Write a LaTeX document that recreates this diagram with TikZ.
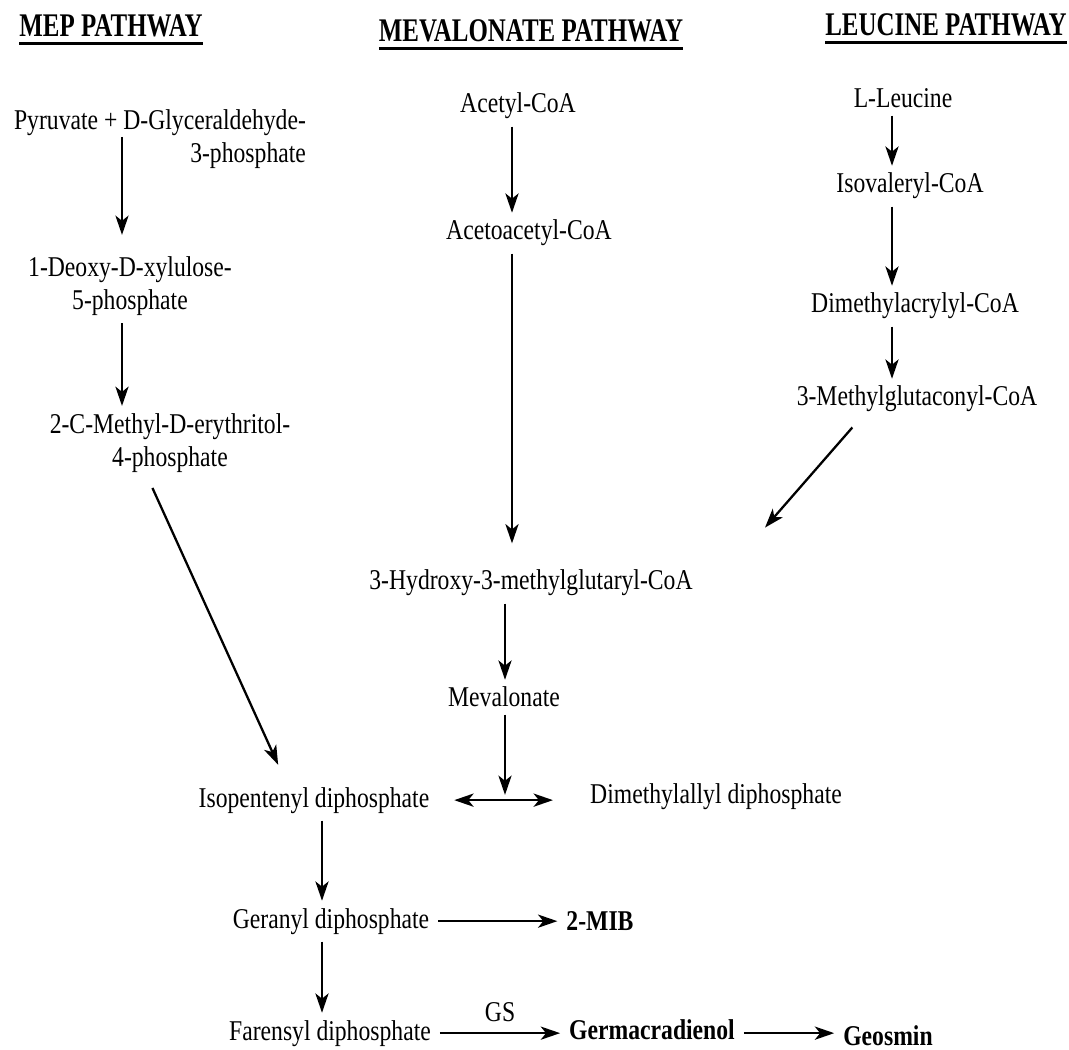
\documentclass[tikz,border=0pt]{standalone}
\usepackage{fontspec}
\setmainfont[FakeStretch=0.826]{Liberation Serif}
\newfontfamily\headfont[FakeStretch=0.755]{Liberation Serif}
\usepackage{tikz}
\usetikzlibrary{arrows.meta}
\newcommand{\bodysize}{\fontsize{16.3}{19}\selectfont}
\newcommand{\headsize}{\fontsize{18.8}{22}\selectfont}
\newcommand{\headline}[1]{\setbox0=\hbox{#1}\vtop{\copy0\kern2.5pt\hrule height 2pt width \wd0}}
\tikzset{
    chem/.style={anchor=base, inner xsep=5pt, inner ysep=4pt, font=\bodysize},
    chemtwo/.style={chem, anchor=center, align=center},
    product/.style={chem, font=\bodysize\bfseries},
    pathhead/.style={anchor=base, inner sep=0pt, font=\headsize\headfont\bfseries},
    conv/.style={-{Stealth[length=11pt, width=7.5pt, inset=3pt]}, line width=1.3pt},
    interconv/.style={conv, {Stealth[length=11pt, width=7.5pt, inset=3pt]}-{Stealth[length=11pt, width=7.5pt, inset=3pt]}}
}

\begin{document}
\begin{tikzpicture}[x=0.02cm, y=-0.02cm]
    \useasboundingbox (0,0) rectangle (1069,1050);

    % pathway titles
    \node[pathhead] (mephead) at (111,37) {\headline{MEP PATHWAY}};
    \node[pathhead] (mvahead) at (531,42) {\headline{MEVALONATE PATHWAY}};
    \node[pathhead] (leuhead) at (946,36) {\headline{LEUCINE PATHWAY}};

    % arrow columns
    \coordinate (mep) at (122,0);
    \coordinate (mva) at (512,0);
    \coordinate (mvb) at (505,0);
    \coordinate (leu) at (892,0);
    \coordinate (ipx) at (322,0);

    % MEP pathway
    \node[chemtwo, align=right] (pyruvate) at (160,139) {Pyruvate + D-Glyceraldehyde-\\3-phosphate};
    \node[chemtwo] (deoxy) at (130,286) {1-Deoxy-D-xylulose-\\5-phosphate};
    \node[chemtwo] (methyl) at (170,443) {2-C-Methyl-D-erythritol-\\4-phosphate};

    \draw[conv, shorten >=8pt] (pyruvate.north -| mep) ++(0,35) -- (deoxy.north -| mep);
    \draw[conv] (deoxy.south -| mep) -- (methyl.north -| mep);

    % mevalonate pathway
    \node[chem] (acetyl) at (518,113) {Acetyl-CoA};
    \node[chem] (acetoacetyl) at (529,240) {Acetoacetyl-CoA};
    \node[chem] (hmg) at (531,590) {3-Hydroxy-3-methylglutaryl-CoA};
    \node[chem] (mev) at (504,707) {Mevalonate};

    \draw[conv] (acetyl.south -| mva) -- (acetoacetyl.north -| mva);
    \draw[conv, shorten >=11pt] (acetoacetyl.south -| mva) -- (hmg.north -| mva);
    \draw[conv] (hmg.south -| mvb) -- (mev.north -| mvb);

    % leucine pathway
    \node[chem] (leucine) at (903,108) {L-Leucine};
    \node[chem] (isoval) at (910,193) {Isovaleryl-CoA};
    \node[chem] (dmacryl) at (915,313) {Dimethylacrylyl-CoA};
    \node[chem] (mglut) at (917,406) {3-Methylglutaconyl-CoA};

    \draw[conv] (leucine.south -| leu) -- (isoval.north -| leu);
    \draw[conv] (isoval.south -| leu) -- (dmacryl.north -| leu);
    \draw[conv] (dmacryl.south -| leu) -- (mglut.north -| leu);
    \draw[conv] ([xshift=-36.8pt, yshift=-4.5pt]mglut.south) -- ([xshift=36pt, yshift=20pt]hmg.north east);

    % isoprenoid units and products
    \node[chem] (ipp) at (314,807) {Isopentenyl diphosphate};
    \node[chem] (dmapp) at (716,804) {Dimethylallyl diphosphate};
    \node[chem] (gpp) at (331,928) {Geranyl diphosphate};
    \node[product] (mib) at (600,930) {2-MIB};
    \node[chem] (fpp) at (330,1040) {Farensyl diphosphate};
    \node[product] (germ) at (652,1039) {Germacradienol};
    \node[product] (geosmin) at (888,1045) {Geosmin};

    \draw[conv] ([xshift=-10pt, yshift=-4.5pt]methyl.south) -- ([xshift=-20.4pt, yshift=8.5pt]ipp.north);
    \draw[conv, shorten >=3pt] (mev.south -| mvb) -- (ipp.east -| mvb);
    \draw[interconv, shorten <=9pt, shorten >=16pt] (ipp.east) -- (ipp.east -| dmapp.west);

    \draw[conv] (ipp.south -| ipx) -- (gpp.north -| ipx);
    \draw[conv] (gpp.south -| ipx) -- (fpp.north -| ipx);
    \draw[conv] (gpp.east) -- (gpp.east -| mib.west);
    \draw[conv] (fpp.east) -- (fpp.east -| germ.west) node[chem, midway, above=2pt] (gs) {GS};
    \draw[conv] (fpp.east -| germ.east) -- (fpp.east -| geosmin.west);
\end{tikzpicture}
\end{document}
